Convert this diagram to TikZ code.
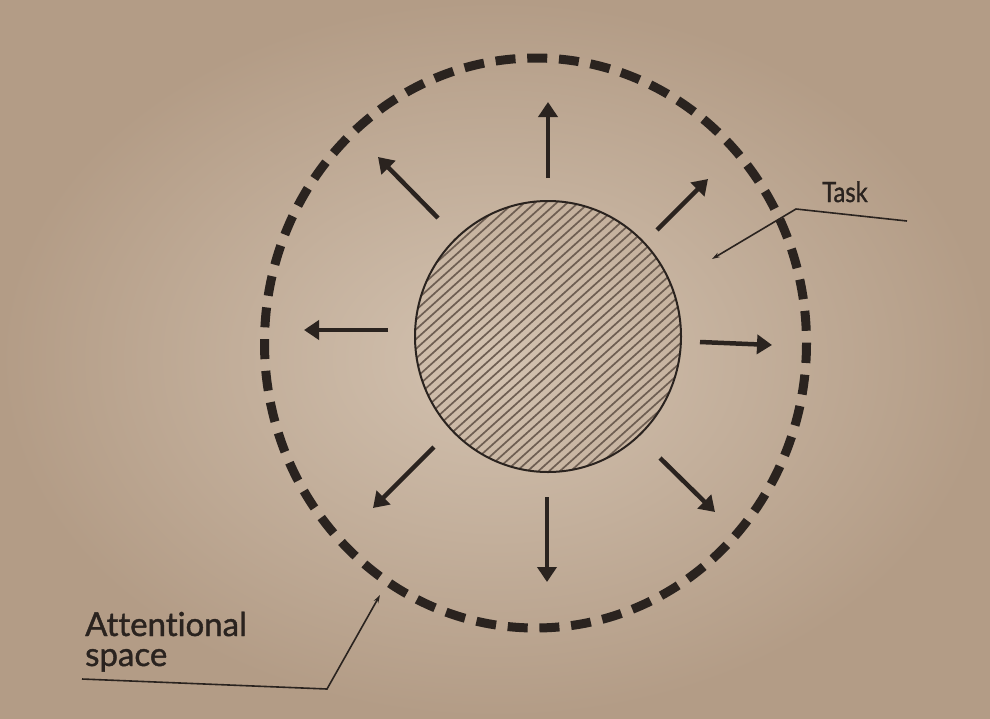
\documentclass[tikz,border=0pt]{standalone}
\usepackage{fontspec}
\setmainfont{Lato}[Ligatures=NoCommon, FakeBold=1.2]
\usetikzlibrary{arrows.meta}
\definecolor{paperlight}{HTML}{D3C2B0}
\definecolor{paperdark}{HTML}{B39C86}
\definecolor{ink}{HTML}{2A231F}
\definecolor{hatchc}{HTML}{6E5E52}
\begin{document}
\begin{tikzpicture}[x=1pt,y=-1pt,
  ray/.style={ink, line width=4.5pt, -{Triangle[length=15pt,width=19pt]}},
  leader/.style={ink, line width=1.6pt, -{Stealth[length=8pt,width=5pt]}},
  hatchline/.style={hatchc, line width=1.7pt},
  lbl/.style={ink, inner sep=0pt, anchor=base west}]
\useasboundingbox (0,0) rectangle (990,718);
\shade[inner color=paperlight, outer color=paperdark] (0,0) rectangle (990,718);
% attentional space (dashed)
\draw[ink, line width=9pt, dash pattern=on 20pt off 11.76pt]
  (535.5,343) ellipse [x radius=271, y radius=285];
% task (hatched disc)
\begin{scope}
  \clip (548,336.5) ellipse [x radius=133, y radius=135.5];
  \begin{scope}[shift={(548,336.5)}, rotate=42]
    \foreach \k in {-20,...,20}
      \draw[hatchline] (-200,\k*7.2) -- (200,\k*7.2);
  \end{scope}
\end{scope}
\draw[ink, line width=2pt] (548,336.5) ellipse [x radius=133, y radius=135.5];
% ray coordinates
\coordinate (nT) at (548,178);  \coordinate (nH) at (548,102);
\coordinate (neT) at (657,230); \coordinate (neH) at (708,179);
\coordinate (eT) at (700,342);  \coordinate (eH) at (772,345);
\coordinate (seT) at (660,458); \coordinate (seH) at (715,512);
\coordinate (sT) at (547,497);  \coordinate (sH) at (547,582);
\coordinate (swT) at (434,447); \coordinate (swH) at (373,508);
\coordinate (wT) at (388,330);  \coordinate (wH) at (304,330);
\coordinate (nwT) at (438,218); \coordinate (nwH) at (378,157);
\foreach \d in {n,ne,e,se,s,sw,w,nw}
  \draw[ray] (\d T) -- (\d H);
% labels
\node[lbl, font=\fontsize{28}{30}\selectfont, xscale=0.85] (task) at (822,202) {Task};
\node[lbl, font=\fontsize{33}{31}\selectfont] (att) at (85,636) {Attentional};
\node[lbl, font=\fontsize{33}{31}\selectfont] (spc) at (85,666) {space};
% leader lines
\coordinate (t1) at (907,221);
\coordinate (t2) at (796,209);
\coordinate (t3) at (712,259);
\draw[leader] (t1) -- (t2) -- (t3);
\coordinate (a1) at (82,679);
\coordinate (a2) at (327,689);
\coordinate (a3) at (380,595);
\draw[leader] (a1) -- (a2) -- (a3);
\end{tikzpicture}
\end{document}
